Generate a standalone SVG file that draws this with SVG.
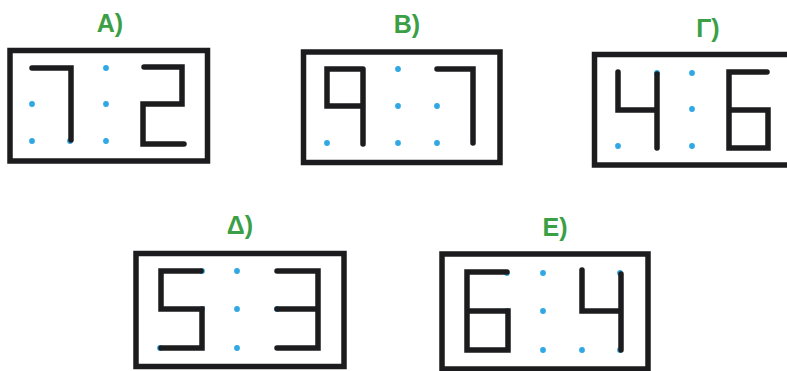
<svg xmlns="http://www.w3.org/2000/svg" width="787" height="371" viewBox="0 0 787 371">
<style>
.box{fill:#fff;stroke:#1c1c1e;stroke-width:5.5}
.seg{fill:none;stroke:#1c1c1e;stroke-width:5.5;stroke-linecap:round;stroke-linejoin:miter}
.dot{fill:#2fa8e4}
.lbl{font-family:"Liberation Sans",Arial,sans-serif;font-weight:bold;font-size:25px;fill:#3a9f45;text-anchor:middle}
</style>
<rect width="787" height="371" fill="#fff"/>
<g id="A">
<text class="lbl" x="110" y="32">A)</text>
<rect class="box" x="10" y="50.5" width="197.5" height="110.5"/>
<circle class="dot" cx="32" cy="104" r="2.9"/><circle class="dot" cx="32" cy="141" r="2.9"/><circle class="dot" cx="70" cy="141" r="2.9"/>
<circle class="dot" cx="106" cy="68" r="2.9"/><circle class="dot" cx="106" cy="104" r="2.9"/><circle class="dot" cx="106" cy="141" r="2.9"/>
<path class="seg" d="M32 68H71V140"/>
<path class="seg" d="M144 67H182V104H143V144H184"/>
</g>
<g id="B">
<text class="lbl" x="407" y="33">B)</text>
<rect class="box" x="303.5" y="52" width="196.5" height="110.5"/>
<circle class="dot" cx="327" cy="143" r="2.9"/>
<circle class="dot" cx="398" cy="69" r="2.9"/><circle class="dot" cx="398" cy="106" r="2.9"/><circle class="dot" cx="398" cy="143" r="2.9"/>
<circle class="dot" cx="437" cy="106" r="2.9"/><circle class="dot" cx="437" cy="143" r="2.9"/>
<path class="seg" d="M363 69H327V106H363M363 69V144"/>
<path class="seg" d="M437 69H473V143"/>
</g>
<g id="G">
<text class="lbl" x="708" y="37">Γ)</text>
<rect class="box" x="594.5" y="54.5" width="210" height="110.5"/>
<circle class="dot" cx="618" cy="146" r="2.9"/><circle class="dot" cx="657" cy="73" r="2.9"/>
<circle class="dot" cx="692" cy="73" r="2.9"/><circle class="dot" cx="692" cy="109" r="2.9"/><circle class="dot" cx="692" cy="146" r="2.9"/>
<path class="seg" d="M618 72V110H657M657 74V148"/>
<path class="seg" d="M767 72H729V148H768V110H729"/>
</g>
<g id="D">
<text class="lbl" x="240" y="234">Δ)</text>
<rect class="box" x="136" y="253.5" width="208" height="113"/>
<circle class="dot" cx="202" cy="271" r="2.9"/><circle class="dot" cx="202" cy="309" r="2.9"/><circle class="dot" cx="160" cy="348" r="2.9"/>
<circle class="dot" cx="237" cy="271" r="2.9"/><circle class="dot" cx="237" cy="309" r="2.9"/><circle class="dot" cx="237" cy="348" r="2.9"/>
<circle class="dot" cx="277" cy="309" r="2.9"/>
<path class="seg" d="M201 271H161V309H202V348H161"/>
<path class="seg" d="M277 271H318V348H277M277 309H318"/>
</g>
<g id="E">
<text class="lbl" x="555" y="236">E)</text>
<rect class="box" x="442" y="254" width="206" height="115"/>
<circle class="dot" cx="507" cy="273" r="2.9"/><circle class="dot" cx="507" cy="311" r="2.9"/>
<circle class="dot" cx="543" cy="273" r="2.9"/><circle class="dot" cx="543" cy="311" r="2.9"/><circle class="dot" cx="543" cy="350" r="2.9"/>
<circle class="dot" cx="582" cy="350" r="2.9"/><circle class="dot" cx="620" cy="273" r="2.9"/><circle class="dot" cx="620" cy="350" r="2.9"/>
<path class="seg" d="M507 272H467V350H508V311H467"/>
<path class="seg" d="M582 270V311H620M621 274V350"/>
</g>
<g id="connectors"/>
</svg>
